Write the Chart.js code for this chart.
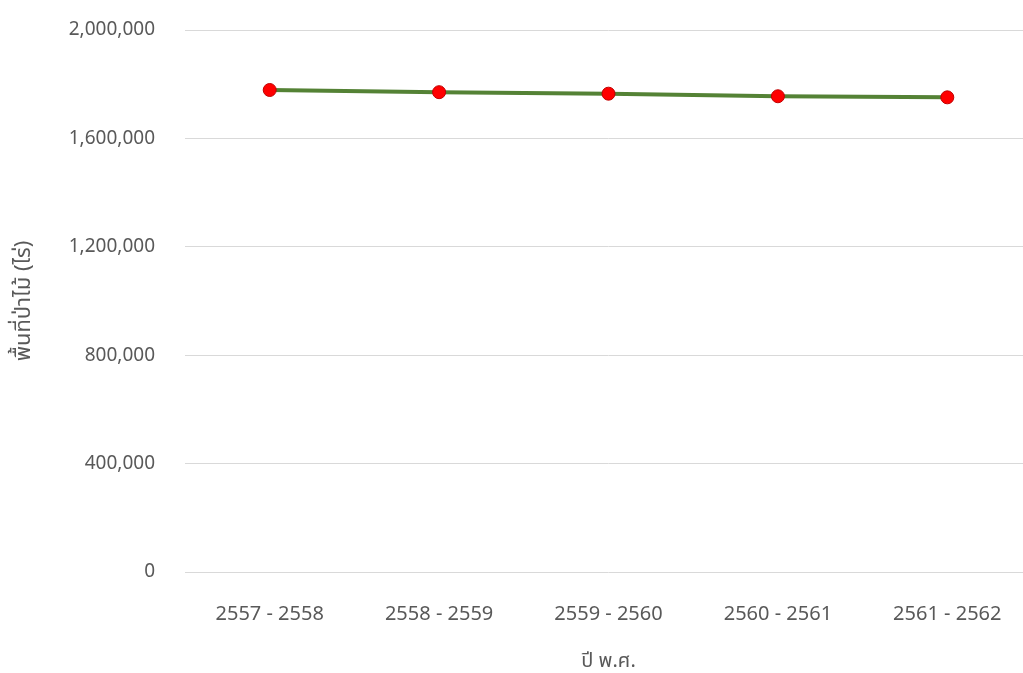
<!DOCTYPE html>
<html>
<head>
<meta charset="utf-8">
<script src="https://cdn.jsdelivr.net/npm/chart.js@4"></script>
<style>
  html, body { margin: 0; padding: 0; background: #fff; overflow: hidden; }
  #forestChart { display: block; }
</style>
</head>
<body>
<canvas id="forestChart" width="1032" height="673"></canvas>
<script>
// ปีงบประมาณ (พ.ศ.) และพื้นที่ป่าไม้เป็นไร่
const years = ["2557 - 2558", "2558 - 2559", "2559 - 2560", "2560 - 2561", "2561 - 2562"];
const forestArea = [1778600, 1770500, 1765000, 1755500, 1751500];
const yTicks = [0, 400000, 800000, 1200000, 1600000, 2000000];

const textColor = "#595959";
const fontFamily = "'Noto Sans', 'Noto Sans Thai', Tahoma, sans-serif";

const ctx = document.getElementById("forestChart").getContext("2d");

const forestChart = new Chart(ctx, {
  type: 'line',
  data: {
    labels: years,
    datasets: [
      {
        label: 'พื้นที่ป่าไม้ (ไร่)',
        data: forestArea,
        borderColor: '#548235',
        borderWidth: 4,
        tension: 0,
        pointRadius: 6.5,
        pointHoverRadius: 6.5,
        pointBackgroundColor: '#ff0000',
        pointBorderColor: '#c00000',
        pointBorderWidth: 1
      }
    ]
  },
  options: {
    responsive: false,
    animation: false,
    layout: {
      autoPadding: false,
      padding: { top: 30, right: 0, bottom: 0, left: 0 }
    },
    plugins: {
      legend: { display: false },
      tooltip: { enabled: false }
    },
    scales: {
      x: {
        offset: true,
        grid: { display: false, drawTicks: true, tickLength: 30, tickColor: 'rgba(0,0,0,0)' },
        border: { display: false },
        ticks: {
          color: textColor,
          font: { family: fontFamily, size: 20 },
          padding: 0,
          maxRotation: 0
        },
        title: {
          display: true,
          text: 'ปี พ.ศ.',
          color: textColor,
          font: { family: fontFamily, size: 20 },
          padding: { top: 0, bottom: 0 }
        },
        afterFit: (scale) => { scale.height = 101; }
      },
      y: {
        min: 0,
        max: 2000000,
        afterBuildTicks: (scale) => {
          scale.ticks = yTicks.map(v => ({ value: v }));
        },
        // invisible tick marks give the gap between labels and plot
        grid: { color: '#d9d9d9', lineWidth: 1, drawTicks: true, tickLength: 30, tickColor: 'rgba(0,0,0,0)' },
        border: { display: false },
        ticks: {
          color: textColor,
          font: { family: fontFamily, size: 19 },
          padding: 0,
          callback: (v) => v.toLocaleString('en-US')
        },
        title: {
          display: true,
          text: 'พื้นที่ป่าไม้ (ไร่)',
          color: textColor,
          font: { family: fontFamily, size: 22 },
          padding: { top: 11, bottom: 0 }
        },
        afterFit: (scale) => { scale.width = 185; }
      }
    }
  }
});
</script>
</body>
</html>
